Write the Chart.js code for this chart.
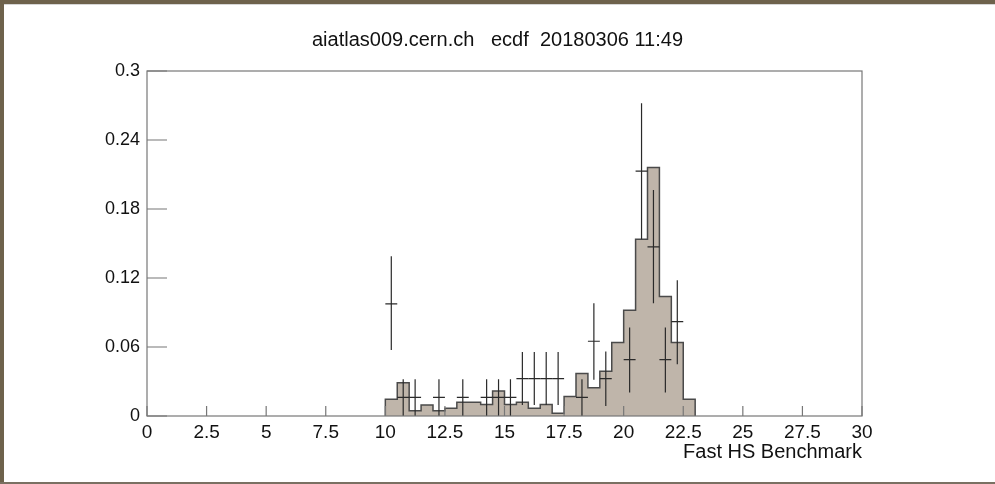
<!DOCTYPE html>
<html>
<head>
<meta charset="utf-8">
<script src="https://cdn.jsdelivr.net/npm/chart.js@4/dist/chart.umd.min.js"></script>
<style>
    html, body { margin: 0; padding: 0; background: #fff; }
    #wrap { position: relative; width: 995px; height: 484px; }
</style>
</head>
<body>
<div id="wrap"><canvas id="benchChart" width="995" height="484"></canvas></div>
<script>
// histogram bins (low edges, width 0.5) and contents
const binLow = [10, 10.5, 11, 11.5, 12, 12.5, 13, 13.5, 14, 14.5, 15, 15.5, 16,
                16.5, 17, 17.5, 18, 18.5, 19, 19.5, 20, 20.5, 21, 21.5, 22, 22.5];
const binWidth = 0.5;
const binContent = [0.0145, 0.029, 0.0046, 0.0096, 0.0046, 0.0067, 0.012, 0.012, 0.010,
                    0.0217, 0.010, 0.012, 0.0067, 0.010, 0.0023, 0.017, 0.037, 0.0246,
                    0.039, 0.064, 0.092, 0.1536, 0.216, 0.104, 0.064, 0.0145];

// data points with error bars
const pointX = [10.25, 10.75, 11.25, 12.25, 13.25, 14.25, 14.75, 15.25, 15.75, 16.25,
                16.75, 17.25, 18.25, 18.75, 19.25, 20.25, 20.75, 21.25, 21.75, 22.25];
const pointY = [0.0975, 0.0162, 0.0162, 0.0162, 0.0162, 0.0162, 0.0162, 0.0162, 0.0325, 0.0325,
                0.0325, 0.0325, 0.0162, 0.065, 0.0325, 0.049, 0.213, 0.147, 0.049, 0.082];
const pointLow = [0.0575, 0, 0, 0, 0, 0, 0, 0, 0.0095, 0.0095,
                  0.0095, 0.0095, 0, 0.0315, 0.0088, 0.0205, 0.1536, 0.098, 0.0205, 0.045];
const pointHigh = [0.139, 0.032, 0.032, 0.032, 0.032, 0.032, 0.032, 0.032, 0.0557, 0.0557,
                   0.0557, 0.0557, 0.032, 0.098, 0.056, 0.077, 0.272, 0.1965, 0.077, 0.118];
const pointXErr = 0.25;

const yTicks = [0, 0.06, 0.12, 0.18, 0.24, 0.3];
const titleText = 'aiatlas009.cern.ch   ecdf  20180306 11:49';
const xTitle = 'Fast HS Benchmark';

// step outline: start at zero on the first edge, end at zero on the last edge
const histData = [{ x: binLow[0], y: 0 }];
binLow.forEach((lo, i) => histData.push({ x: lo, y: binContent[i] }));
histData.push({ x: binLow[binLow.length - 1] + binWidth, y: 0 });

const FONT = '"Liberation Sans", Arial, Helvetica, sans-serif';

const rootStyle = {
    id: 'rootStyle',
    beforeDraw(chart) {
        const ctx = chart.ctx;
        ctx.save();
        ctx.fillStyle = '#ffffff';
        ctx.fillRect(0, 0, chart.width, chart.height);
        ctx.restore();
    },
    afterDatasetsDraw(chart) {
        const ctx = chart.ctx;
        const xs = chart.scales.x;
        const ys = chart.scales.y;
        const area = chart.chartArea;

        // error bars
        ctx.save();
        ctx.strokeStyle = '#2a2a2a';
        ctx.lineWidth = 1.2;
        pointX.forEach((x, i) => {
            const px = xs.getPixelForValue(x);
            const py = ys.getPixelForValue(pointY[i]);
            ctx.beginPath();
            ctx.moveTo(px, ys.getPixelForValue(pointLow[i]));
            ctx.lineTo(px, ys.getPixelForValue(pointHigh[i]));
            ctx.moveTo(xs.getPixelForValue(x - pointXErr), py);
            ctx.lineTo(xs.getPixelForValue(x + pointXErr), py);
            ctx.stroke();
        });
        ctx.restore();

        // frame and inside ticks
        ctx.save();
        ctx.strokeStyle = '#777777';
        ctx.lineWidth = 1.2;
        ctx.strokeRect(area.left, area.top, area.right - area.left, area.bottom - area.top);
        ctx.beginPath();
        xs.ticks.forEach(t => {
            const px = xs.getPixelForValue(t.value);
            ctx.moveTo(px, area.bottom);
            ctx.lineTo(px, area.bottom - 10);
        });
        ys.ticks.forEach(t => {
            const py = ys.getPixelForValue(t.value);
            ctx.moveTo(area.left, py);
            ctx.lineTo(area.left + 20, py);
        });
        ctx.stroke();
        ctx.restore();

        // canvas border
        ctx.save();
        ctx.fillStyle = '#6e624c';
        ctx.fillRect(0, 0, chart.width, 4);
        ctx.fillRect(0, 0, 4, chart.height);
        ctx.fillStyle = '#d6d6d6';
        ctx.fillRect(4, 4, chart.width - 4, 1);
        ctx.fillStyle = '#7a7062';
        ctx.fillRect(0, chart.height - 2, chart.width, 2);
        ctx.restore();
    }
};

new Chart(document.getElementById('benchChart').getContext('2d'), {
    type: 'line',
    data: {
        datasets: [{
            label: 'hist',
            data: histData,
            stepped: 'before',
            fill: 'origin',
            backgroundColor: '#bfb5aa',
            borderColor: '#4a4a4a',
            borderWidth: 1.5,
            pointRadius: 0,
            tension: 0
        }]
    },
    options: {
        responsive: false,
        animation: false,
        events: [],
        layout: {
            padding: 0
        },
        plugins: {
            legend: { display: false },
            tooltip: { enabled: false },
            title: {
                display: true,
                text: titleText,
                color: '#111',
                font: { family: FONT, size: 20, weight: 'normal', lineHeight: 1.2 },
                padding: { top: 28, bottom: 19 }
            }
        },
        scales: {
            x: {
                type: 'linear',
                min: 0,
                max: 30,
                grid: { display: false, drawTicks: false },
                border: { display: false },
                ticks: {
                    stepSize: 2.5,
                    padding: 5,
                    maxRotation: 0,
                    autoSkip: false,
                    color: '#111',
                    font: { family: FONT, size: 19 },
                    callback: v => String(v)
                },
                title: {
                    display: true,
                    text: xTitle,
                    align: 'end',
                    color: '#111',
                    font: { family: FONT, size: 20, lineHeight: 1.2 },
                    padding: { top: 2, bottom: 20 }
                },
                afterFit: s => { s.height = 68; }
            },
            y: {
                min: 0,
                max: 0.3,
                grid: { display: false, drawTicks: false },
                border: { display: false },
                afterBuildTicks: s => { s.ticks = yTicks.map(v => ({ value: v })); },
                ticks: {
                    padding: 7,
                    color: '#111',
                    font: { family: FONT, size: 18 },
                    callback: v => String(+v.toFixed(2))
                },
                afterFit: s => { s.width = 147; }
            },
            // empty right-hand margin so the title centres on the whole canvas
            yRight: {
                position: 'right',
                min: 0,
                max: 1,
                grid: { display: false, drawTicks: false },
                border: { display: false },
                ticks: { display: false },
                afterFit: s => { s.width = 133; }
            }
        }
    },
    plugins: [rootStyle]
});
</script>
</body>
</html>
